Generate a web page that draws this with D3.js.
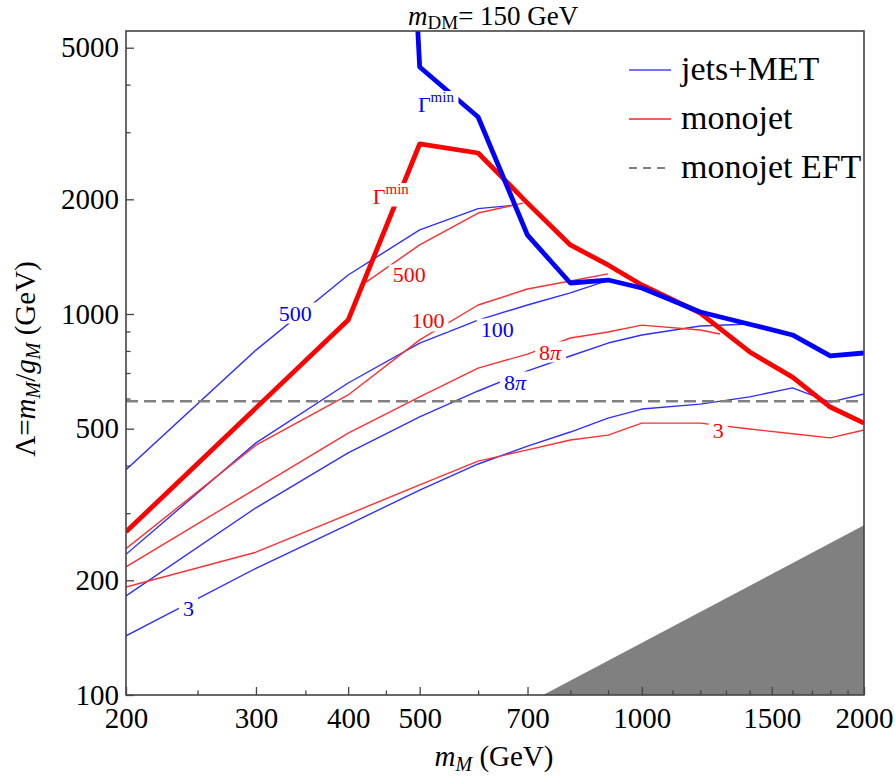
<!DOCTYPE html>
<html>
<head>
<meta charset="utf-8">
<script src="https://cdn.jsdelivr.net/npm/d3@7"></script>
<style>
  html, body { margin: 0; padding: 0; background: #fff; }
  svg { display: block; font-family: "Liberation Serif", "DejaVu Serif", serif; }
</style>
</head>
<body>
<svg id="chart" width="895" height="776"></svg>
<script>
// ---------------- data (m_M in GeV, Lambda in GeV) ----------------
const jetsGammaMin = [[495,6500],[500,4450],[600,3290],[700,1610],[800,1206],[900,1228],[1000,1170],[1200,1012],[1400,940],[1600,881],[1800,776],[2000,790]];
const monoGammaMin = [[200,268],[300,567],[400,964],[500,2794],[600,2646],[700,1955],[800,1518],[900,1345],[1000,1192],[1200,1006],[1400,795],[1600,683],[1800,570],[2000,517]];
const jets500 = [[200,390],[300,804],[400,1266],[500,1662],[600,1890],[672,1930]];
const mono500 = [[423,1213],[500,1518],[600,1841],[690,1955]];
const jets100 = [[200,234],[300,459],[400,659],[500,839],[600,964],[700,1056],[800,1136],[900,1225]];
const mono100 = [[200,242],[300,453],[400,613],[500,855],[600,1056],[700,1163],[800,1221],[900,1274]];
const jets8pi = [[200,182],[300,310],[400,432],[500,537],[600,628],[700,709],[800,776],[900,839],[1000,881],[1200,930],[1400,941]];
const mono8pi = [[200,217],[300,348],[400,487],[500,606],[600,721],[700,785],[800,865],[900,897],[1000,935],[1200,908],[1276,886]];
const jets3 = [[200,143],[300,215],[400,280],[500,345],[600,404],[700,450],[800,490],[900,533],[1000,563],[1200,580],[1400,606],[1600,640],[1800,587],[2000,617]];
const mono3 = [[200,192],[300,237],[400,298],[500,356],[600,411],[700,440],[800,467],[900,481],[1000,517],[1200,517],[1400,499],[1600,485],[1800,473],[2000,496]];
const monojetEFT = 590;
const excludedRegion = [[735,100],[2000,279],[2000,100]];

// contour labels: [text, mM, Lambda, series]
const contourLabels = [
  ["500", 339, 1006, "jets"],
  ["500", 484, 1266, "mono"],
  ["100", 513, 959, "mono"],
  ["100", 637, 913, "jets"],
  ["8π", 751, 795, "mono"],
  ["8π", 673, 663, "jets"],
  ["3", 1269, 496, "mono"],
  ["3", 243, 169, "jets"],
  ["Γmin", 526, 3558, "jets"],
  ["Γmin", 457, 2040, "mono"]
];

const xMajorTicks = [200, 300, 400, 500, 700, 1000, 1500, 2000];
const xMinorTicks = [250, 350, 450, 600, 800, 900, 1100, 1200, 1300, 1400, 1600, 1700, 1800, 1900];
const yMajorTicks = [100, 200, 500, 1000, 2000, 5000];
const yMinorTicks = [300, 400, 600, 700, 800, 900, 3000, 4000];

const legendItems = [
  ["jets+MET", "jets"],
  ["monojet", "mono"],
  ["monojet EFT", "eft"]
];

// ---------------- layout ----------------
const L = 126, R = 864, T = 31, B = 695;
const x = d3.scaleLog().domain([200, 2000]).range([L, R]);
const y = d3.scaleLog().domain([100, 5531]).range([B, T]);

const colors = { jets: "#0000ff", mono: "#ff0000", eft: "#808080" };
const svg = d3.select("#chart");

svg.append("defs").append("clipPath").attr("id", "plotclip")
  .append("rect").attr("x", L).attr("y", T).attr("width", R - L).attr("height", B - T);

const plot = svg.append("g").attr("clip-path", "url(#plotclip)");
const line = d3.line().x(d => x(d[0])).y(d => y(d[1]));

// excluded region
plot.append("path")
  .attr("d", line(excludedRegion) + "Z")
  .attr("fill", "#808080");

// thin contours
const thin = [
  [jets500, "jets"], [mono500, "mono"], [jets100, "jets"], [mono100, "mono"],
  [jets8pi, "jets"], [mono8pi, "mono"], [jets3, "jets"], [mono3, "mono"]
];
thin.forEach(([d, s]) => {
  plot.append("path").attr("d", line(d)).attr("fill", "none")
    .attr("stroke", s === "jets" ? "#2f2fff" : "#ff2f2f")
    .attr("stroke-width", 1.4).attr("stroke-linejoin", "round");
});

// EFT line
plot.append("line")
  .attr("x1", L).attr("x2", R).attr("y1", y(monojetEFT)).attr("y2", y(monojetEFT))
  .attr("stroke", "#808080").attr("stroke-width", 2.6).attr("stroke-dasharray", "12,6");

// Gamma-min thick lines
plot.append("path").attr("d", line(monoGammaMin)).attr("fill", "none")
  .attr("stroke", colors.mono).attr("stroke-width", 4.8).attr("stroke-linejoin", "round");
plot.append("path").attr("d", line(jetsGammaMin)).attr("fill", "none")
  .attr("stroke", colors.jets).attr("stroke-width", 4.8).attr("stroke-linejoin", "round");

// contour labels with white gaps
const labG = svg.append("g");
contourLabels.forEach(([t, mx, ly, s]) => {
  const g = labG.append("g");
  const bg = g.append("rect").attr("fill", "#fff");
  const txt = g.append("text")
    .attr("x", x(mx)).attr("y", y(ly))
    .attr("text-anchor", "middle").attr("dominant-baseline", "central")
    .attr("fill", colors[s]).attr("font-size", 22);
  if (t === "Γmin") {
    txt.append("tspan").text("Γ");
    txt.append("tspan").attr("font-size", 15).attr("dy", -7).text("min");
  } else if (t === "8π") {
    txt.append("tspan").text("8");
    txt.append("tspan").attr("font-style", "italic").text("π");
  } else {
    txt.text(t);
  }
  const bb = txt.node().getBBox();
  bg.attr("x", bb.x - 4).attr("y", bb.y + 2).attr("width", bb.width + 8).attr("height", bb.height - 4);
});

// ---------------- axes ----------------
const axisColor = "#444";
const fs = 29;
const xAxis = svg.append("g").attr("transform", `translate(0,${B})`)
  .call(d3.axisBottom(x).tickValues(xMajorTicks).tickSize(-8).tickPadding(12).tickFormat(d3.format("d")));
const xAxisMinor = svg.append("g").attr("transform", `translate(0,${B})`)
  .call(d3.axisBottom(x).tickValues(xMinorTicks).tickSize(-4.5).tickFormat(""));
const yAxis = svg.append("g").attr("transform", `translate(${L},0)`)
  .call(d3.axisLeft(y).tickValues(yMajorTicks).tickSize(-8).tickPadding(7).tickFormat(d3.format("d")));
const yAxisMinor = svg.append("g").attr("transform", `translate(${L},0)`)
  .call(d3.axisLeft(y).tickValues(yMinorTicks).tickSize(-4.5).tickFormat(""));
[xAxis, xAxisMinor, yAxis, yAxisMinor].forEach(a => {
  a.attr("font-family", "Liberation Serif, serif");
  a.select(".domain").remove();
  a.selectAll(".tick line").attr("stroke", axisColor).attr("stroke-width", 1.3);
  a.selectAll(".tick text").attr("fill", "#000").attr("font-size", fs)
    .attr("font-family", "Liberation Serif, serif");
});

// frame
svg.append("rect").attr("x", L).attr("y", T).attr("width", R - L).attr("height", B - T)
  .attr("fill", "none").attr("stroke", axisColor).attr("stroke-width", 1.6);

// ---------------- titles ----------------
const title = svg.append("text").attr("x", 408).attr("y", 25).attr("font-size", 27).attr("fill", "#000");
title.append("tspan").attr("font-style", "italic").text("m");
title.append("tspan").attr("font-size", 19).attr("dy", 4).text("DM");
title.append("tspan").attr("dy", -4).text("= 150 GeV");

const xt = svg.append("text").attr("x", 494).attr("y", 766).attr("text-anchor", "middle")
  .attr("font-size", 29).attr("fill", "#000");
xt.append("tspan").attr("font-style", "italic").text("m");
xt.append("tspan").attr("font-style", "italic").attr("font-size", 20).attr("dy", 5).text("M");
xt.append("tspan").attr("dy", -5).text(" (GeV)");

const yt = svg.append("text").attr("transform", "translate(35,359) rotate(-90)")
  .attr("text-anchor", "middle").attr("font-size", 29).attr("fill", "#000");
yt.append("tspan").text("Λ=");
yt.append("tspan").attr("font-style", "italic").text("m");
yt.append("tspan").attr("font-style", "italic").attr("font-size", 20).attr("dy", 5).text("M");
yt.append("tspan").attr("dy", -5).text("/");
yt.append("tspan").attr("font-style", "italic").text("g");
yt.append("tspan").attr("font-style", "italic").attr("font-size", 20).attr("dy", 5).text("M");
yt.append("tspan").attr("dy", -5).text(" (GeV)");

// ---------------- legend ----------------
const legY = [70, 119, 168];
legendItems.forEach(([t, s], i) => {
  const ly = legY[i];
  const ln = svg.append("line").attr("x1", 629).attr("x2", 671).attr("y1", ly).attr("y2", ly)
    .attr("stroke-width", 2.2);
  if (s === "jets") ln.attr("stroke", "#7373ff");
  else if (s === "mono") ln.attr("stroke", "#ff5a5a");
  else ln.attr("stroke", "#808080").attr("stroke-dasharray", "8,6");
  svg.append("text").attr("x", 681).attr("y", ly + 10).attr("font-size", 34).attr("fill", "#000").text(t);
});
</script>
</body>
</html>
